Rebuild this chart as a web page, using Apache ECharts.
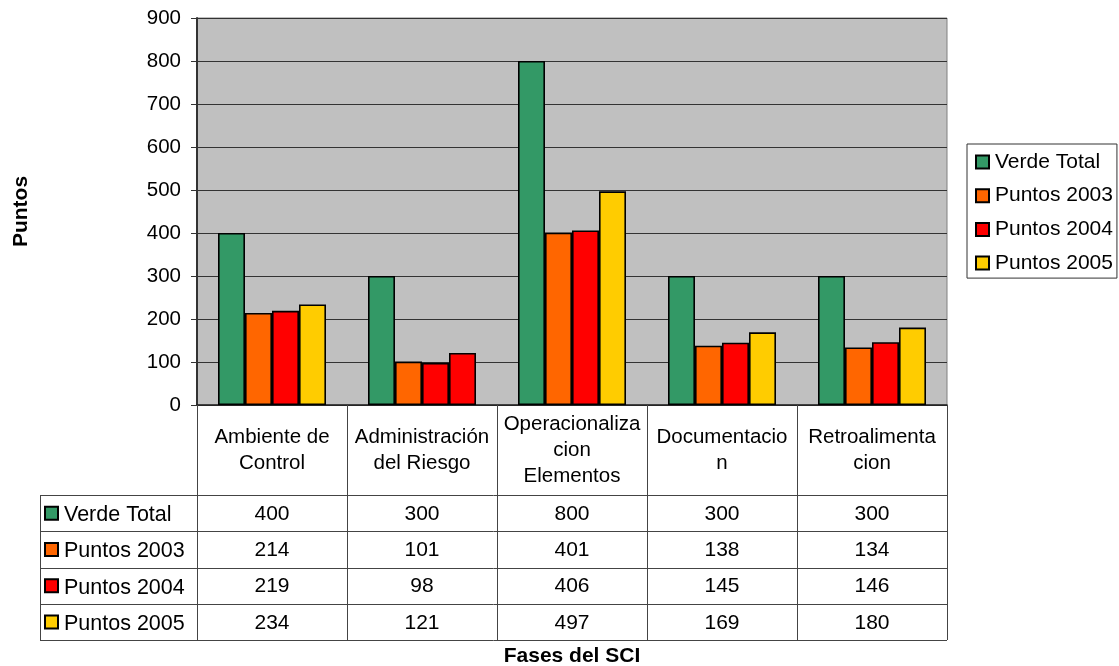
<!DOCTYPE html>
<html>
<head>
<meta charset="utf-8">
<script src="https://cdn.jsdelivr.net/npm/echarts@6/dist/echarts.min.js"></script>
<style>
  html, body { margin: 0; padding: 0; background: #fff; }
  #chart { width: 1119px; height: 666px; }
</style>
</head>
<body>
<div id="chart"></div>
<script>
// Fases del SCI: puntos por fase
const categories = [
  'Ambiente de\nControl',
  'Administración\ndel Riesgo',
  'Operacionaliza\ncion\nElementos',
  'Documentacio\nn',
  'Retroalimenta\ncion'
];
const seriesNames = ['Verde Total', 'Puntos 2003', 'Puntos 2004', 'Puntos 2005'];
const verdeTotal = [400, 300, 800, 300, 300];
const puntos2003 = [214, 101, 401, 138, 134];
const puntos2004 = [219, 98, 406, 145, 146];
const puntos2005 = [234, 121, 497, 169, 180];
const yTicks = [0, 100, 200, 300, 400, 500, 600, 700, 800, 900];

const seriesValues = [verdeTotal, puntos2003, puntos2004, puntos2005];
const colors = ['#339966', '#FF6600', '#FF0000', '#FFCC00'];
// one bar drawn in a different fill (Puntos 2005, Administración del Riesgo)
const pointOverride = { series: 3, index: 1, color: '#FF0000' };

const FONT = 'Liberation Sans, Arial, sans-serif';
const GRID = { left: 197, top: 18, width: 750, height: 387 };
const HEADER_H = 90;
const ROW_H = 36.25;
const TABLE_LEFT = 40;
const LINE = '#444';

const chart = echarts.init(document.getElementById('chart'), null, { renderer: 'canvas' });

const series = seriesNames.map((name, s) => ({
  name,
  type: 'bar',
  barGap: '0%',
  barCategoryGap: '28%',
  itemStyle: { color: colors[s], borderColor: '#000', borderWidth: 1.6 },
  data: seriesValues[s].map((v, i) =>
    (s === pointOverride.series && i === pointOverride.index)
      ? { value: v, itemStyle: { color: pointOverride.color } }
      : v),
  animation: false
}));

chart.setOption({
  animation: false,
  textStyle: { fontFamily: FONT },
  grid: {
    left: GRID.left, top: GRID.top, width: GRID.width, height: GRID.height,
    containLabel: false,
    outerBoundsMode: 'none',
    show: true, backgroundColor: '#C0C0C0', borderColor: '#808080', borderWidth: 1
  },
  legend: {
    orient: 'vertical',
    left: 967, top: 144,
    padding: [7, 4, 4, 8],
    itemGap: 11.7,
    itemWidth: 13, itemHeight: 13,
    icon: 'rect',
    borderColor: '#333', borderWidth: 1,
    backgroundColor: '#fff',
    itemStyle: { borderColor: '#000', borderWidth: 2 },
    textStyle: { fontFamily: FONT, fontSize: 21, color: '#000', lineHeight: 22, padding: [0, 0, 0, 1] },
    data: seriesNames
  },
  xAxis: {
    type: 'category',
    data: categories,
    name: 'Fases del SCI',
    nameLocation: 'middle',
    nameGap: 241,
    nameTextStyle: { fontFamily: FONT, fontSize: 21, fontWeight: 'bold', color: '#000' },
    axisLine: { show: true, lineStyle: { color: '#222', width: 1.5 } },
    axisTick: { show: true, inside: false, length: HEADER_H + 4 * ROW_H, lineStyle: { color: LINE, width: 1 } },
    axisLabel: {
      interval: 0, margin: HEADER_H / 2, verticalAlign: 'middle',
      fontFamily: FONT, fontSize: 20.5, lineHeight: 26, color: '#000', align: 'center'
    },
    splitLine: { show: false }
  },
  yAxis: {
    type: 'value',
    min: yTicks[0], max: yTicks[yTicks.length - 1], interval: yTicks[1] - yTicks[0],
    name: 'Puntos',
    nameLocation: 'middle',
    nameRotate: 90,
    nameGap: 165,
    nameTextStyle: { fontFamily: FONT, fontSize: 21, fontWeight: 'bold', color: '#000' },
    axisLine: { show: true, lineStyle: { color: '#333', width: 2 } },
    axisTick: { show: true, inside: false, length: 6, lineStyle: { color: '#333' } },
    axisLabel: { fontFamily: FONT, fontSize: 20.5, color: '#000', margin: 16 },
    splitLine: { show: true, lineStyle: { color: '#333', width: 1 } }
  },
  series
});

// Data table under the axis, built from the same arrays
function drawTable() {
  const elements = [];
  const top = GRID.top + GRID.height + HEADER_H;
  const right = GRID.left + GRID.width;
  // left column border
  elements.push({
    type: 'line', silent: true,
    shape: { x1: TABLE_LEFT + 0.5, y1: top, x2: TABLE_LEFT + 0.5, y2: top + 4 * ROW_H },
    style: { stroke: LINE, lineWidth: 1 }
  });
  for (let r = 0; r <= 4; r++) {
    const y = Math.round(top + r * ROW_H) + 0.5;
    elements.push({
      type: 'line', silent: true,
      shape: { x1: TABLE_LEFT, y1: y, x2: right, y2: y },
      style: { stroke: LINE, lineWidth: 1 }
    });
  }
  seriesNames.forEach((name, s) => {
    const cy = top + (s + 0.5) * ROW_H;
    elements.push({
      type: 'rect', silent: true,
      shape: { x: 45, y: cy - 6.5, width: 13, height: 13 },
      style: { fill: colors[s], stroke: '#000', lineWidth: 2 }
    });
    elements.push({
      type: 'text', silent: true,
      style: {
        x: 64, y: cy + 2, text: name, fill: '#000',
        font: '21.5px ' + FONT, textAlign: 'left', textVerticalAlign: 'middle',
        verticalAlign: 'middle', align: 'left'
      }
    });
    seriesValues[s].forEach((v, i) => {
      const cx = chart.convertToPixel({ xAxisIndex: 0 }, i);
      elements.push({
        type: 'text', silent: true,
        style: {
          x: cx, y: cy + 1, text: String(v), fill: '#000',
          font: '21px ' + FONT, align: 'center', verticalAlign: 'middle',
          textAlign: 'center', textVerticalAlign: 'middle'
        }
      });
    });
  });
  chart.setOption({ graphic: { elements } });
}
drawTable();
</script>
</body>
</html>
